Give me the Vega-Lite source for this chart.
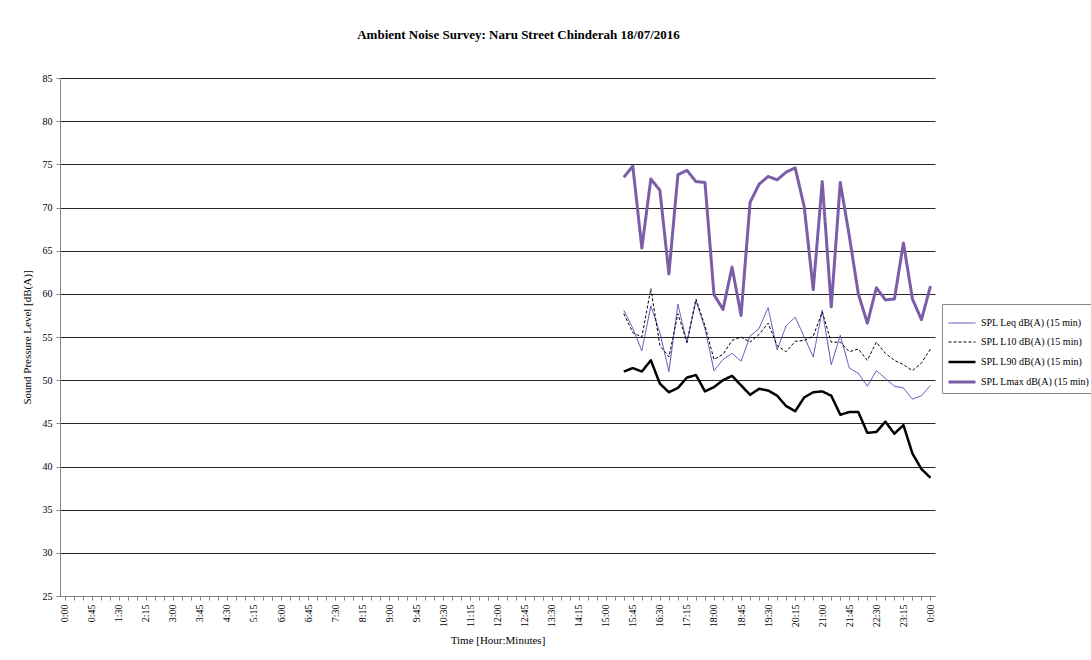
{
  "$schema": "https://vega.github.io/schema/vega-lite/v6.json",
  "autosize": {"type": "none"},
  "padding": {"left": 60, "top": 78, "right": 156, "bottom": 64},
  "width": 875,
  "height": 518,
  "background": "white",
  "title": {
    "text": "Ambient  Noise Survey: Naru  Street Chinderah  18/07/2016",
    "font": "Liberation Serif",
    "fontSize": 13,
    "fontWeight": "bold",
    "color": "black",
    "anchor": "middle",
    "dx": 21,
    "offset": 31
  },
  "data": {
    "values": [
      {"t": 930, "Leq": 58.1, "L10": 57.7, "L90": 51.0, "Lmax": 73.5},
      {"t": 945, "Leq": 56.0, "L10": 55.5, "L90": 51.4, "Lmax": 74.8},
      {"t": 960, "Leq": 53.4, "L10": 55.0, "L90": 51.0, "Lmax": 65.3},
      {"t": 975, "Leq": 58.6, "L10": 60.6, "L90": 52.3, "Lmax": 73.3},
      {"t": 990, "Leq": 55.5, "L10": 54.0, "L90": 49.6, "Lmax": 72.0},
      {"t": 1005, "Leq": 51.0, "L10": 52.7, "L90": 48.6, "Lmax": 62.3},
      {"t": 1020, "Leq": 58.8, "L10": 57.7, "L90": 49.1, "Lmax": 73.8},
      {"t": 1035, "Leq": 54.3, "L10": 54.4, "L90": 50.3, "Lmax": 74.3},
      {"t": 1050, "Leq": 59.2, "L10": 59.4, "L90": 50.6, "Lmax": 73.0},
      {"t": 1065, "Leq": 56.0, "L10": 56.3, "L90": 48.7, "Lmax": 72.9},
      {"t": 1080, "Leq": 51.1, "L10": 52.4, "L90": 49.2, "Lmax": 59.9},
      {"t": 1095, "Leq": 52.4, "L10": 53.0, "L90": 50.0, "Lmax": 58.2},
      {"t": 1110, "Leq": 53.1, "L10": 54.6, "L90": 50.5, "Lmax": 63.1},
      {"t": 1125, "Leq": 52.2, "L10": 55.0, "L90": 49.4, "Lmax": 57.5},
      {"t": 1140, "Leq": 55.1, "L10": 54.4, "L90": 48.3, "Lmax": 70.6},
      {"t": 1155, "Leq": 56.0, "L10": 55.3, "L90": 49.0, "Lmax": 72.7},
      {"t": 1170, "Leq": 58.4, "L10": 56.6, "L90": 48.8, "Lmax": 73.6},
      {"t": 1185, "Leq": 53.5, "L10": 54.0, "L90": 48.2, "Lmax": 73.2},
      {"t": 1200, "Leq": 56.3, "L10": 53.3, "L90": 47.0, "Lmax": 74.1},
      {"t": 1215, "Leq": 57.3, "L10": 54.5, "L90": 46.4, "Lmax": 74.6},
      {"t": 1230, "Leq": 55.0, "L10": 54.6, "L90": 48.0, "Lmax": 70.1},
      {"t": 1245, "Leq": 52.7, "L10": 55.1, "L90": 48.6, "Lmax": 60.5},
      {"t": 1260, "Leq": 58.1, "L10": 57.9, "L90": 48.7, "Lmax": 73.0},
      {"t": 1275, "Leq": 51.8, "L10": 54.4, "L90": 48.2, "Lmax": 58.5},
      {"t": 1290, "Leq": 55.2, "L10": 54.4, "L90": 46.0, "Lmax": 72.9},
      {"t": 1305, "Leq": 51.4, "L10": 53.3, "L90": 46.3, "Lmax": 66.7},
      {"t": 1320, "Leq": 50.8, "L10": 53.6, "L90": 46.3, "Lmax": 60.0},
      {"t": 1335, "Leq": 49.3, "L10": 52.3, "L90": 43.9, "Lmax": 56.6},
      {"t": 1350, "Leq": 51.1, "L10": 54.4, "L90": 44.0, "Lmax": 60.7},
      {"t": 1365, "Leq": 50.2, "L10": 53.1, "L90": 45.2, "Lmax": 59.3},
      {"t": 1380, "Leq": 49.3, "L10": 52.3, "L90": 43.8, "Lmax": 59.4},
      {"t": 1395, "Leq": 49.1, "L10": 51.8, "L90": 44.8, "Lmax": 65.9},
      {"t": 1410, "Leq": 47.8, "L10": 51.1, "L90": 41.5, "Lmax": 59.4},
      {"t": 1425, "Leq": 48.2, "L10": 52.0, "L90": 39.7, "Lmax": 57.0},
      {"t": 1440, "Leq": 49.4, "L10": 53.6, "L90": 38.7, "Lmax": 60.9}
    ]
  },
  "transform": [
    {"fold": ["Leq", "L10", "L90", "Lmax"], "as": ["series", "v"]}
  ],
  "mark": {"type": "line", "strokeJoin": "round"},
  "encoding": {
    "x": {
      "field": "t",
      "type": "quantitative",
      "scale": {"domain": [-7.5, 1447.5], "nice": false, "zero": false},
      "axis": {
        "title": "Time  [Hour:Minutes]",
        "values": [0,15,30,45,60,75,90,105,120,135,150,165,180,195,210,225,240,255,270,285,300,315,330,345,360,375,390,405,420,435,450,465,480,495,510,525,540,555,570,585,600,615,630,645,660,675,690,705,720,735,750,765,780,795,810,825,840,855,870,885,900,915,930,945,960,975,990,1005,1020,1035,1050,1065,1080,1095,1110,1125,1140,1155,1170,1185,1200,1215,1230,1245,1260,1275,1290,1305,1320,1335,1350,1365,1380,1395,1410,1425,1440],
        "labelExpr": "datum.value % 45 == 0 ? (floor((datum.value % 1440) / 60) + ':' + (datum.value % 60 < 10 ? '0' : '') + (datum.value % 60)) : ''",
        "labelAngle": 270,
        "labelAlign": "right",
        "labelBaseline": "middle",
        "labelPadding": 4,
        "labelOverlap": false,
        "labelFlush": false,
        "labelFont": "Liberation Serif",
        "labelFontSize": 10,
        "labelColor": "black",
        "titleFont": "Liberation Serif",
        "titleFontSize": 11,
        "titleFontWeight": "normal",
        "titleColor": "black",
        "titlePadding": 8,
        "grid": false,
        "domainColor": "#868686",
        "tickColor": "#868686",
        "tickSize": 4
      }
    },
    "y": {
      "field": "v",
      "type": "quantitative",
      "scale": {"domain": [25, 85], "nice": false, "zero": false},
      "axis": {
        "title": "Sound Pressure Level  [dB(A)]",
        "values": [25,30,35,40,45,50,55,60,65,70,75,80,85],
        "labelFont": "Liberation Serif",
        "labelFontSize": 10,
        "labelColor": "black",
        "labelPadding": 4,
        "titleFont": "Liberation Serif",
        "titleFontSize": 11,
        "titleFontWeight": "normal",
        "titleColor": "black",
        "titlePadding": 10,
        "grid": true,
        "gridColor": "black",
        "gridOpacity": 0.85,
        "gridWidth": 1,
        "domainColor": "#868686",
        "tickColor": "#868686",
        "tickSize": 4
      }
    },
    "color": {
      "field": "series",
      "type": "nominal",
      "scale": {"domain": ["Leq", "L10", "L90", "Lmax"], "range": ["#4B4BB5", "#000000", "#000000", "#7B5EA7"]},
      "legend": {
        "title": null,
        "orient": "none",
        "legendX": 882,
        "legendY": 226,
        "symbolType": "stroke",
        "symbolSize": 729,
        "rowPadding": -9,
        "labelExpr": "'SPL ' + datum.value + ' dB(A) (15 min)'",
        "labelFont": "Liberation Serif",
        "labelFontSize": 10,
        "labelColor": "black",
        "labelLimit": 300,
        "strokeColor": "#868686",
        "fillColor": "white",
        "padding": 5,
        "encode": {
          "symbols": {
            "update": {
              "strokeWidth": {"signal": "datum.value == 'L90' ? 2.5 : datum.value == 'Lmax' ? 3 : 1"},
              "strokeDash": {"signal": "datum.value == 'L10' ? [3, 2] : [1, 0]"}
            }
          }
        }
      }
    },
    "strokeDash": {
      "field": "series",
      "type": "nominal",
      "scale": {"domain": ["Leq", "L10", "L90", "Lmax"], "range": [[1, 0], [3, 2], [1, 0], [1, 0]]},
      "legend": null
    },
    "strokeWidth": {
      "field": "series",
      "type": "ordinal",
      "scale": {"type": "ordinal", "domain": ["Leq", "L10", "L90", "Lmax"], "range": [1, 1, 2.5, 3]},
      "legend": null
    }
  },
  "config": {
    "view": {"stroke": null}
  }
}
